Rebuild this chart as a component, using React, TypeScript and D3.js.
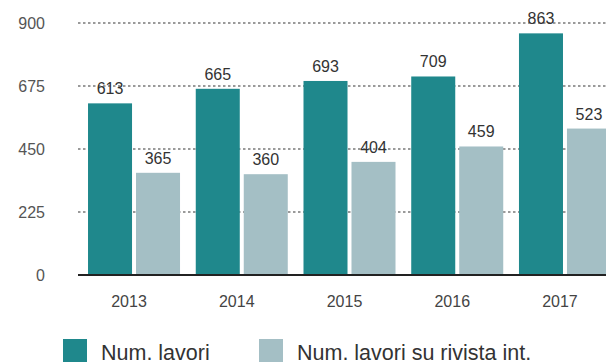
import React from "react";
import * as d3 from "d3";

const years = ["2013", "2014", "2015", "2016", "2017"];
const numLavori = [613, 665, 693, 709, 863];
const numRivista = [365, 360, 404, 459, 523];
const yTicks = [0, 225, 450, 675, 900];
const seriesNames = ["Num. lavori", "Num. lavori su rivista int."];
const colors = ["#1f888c", "#a4bfc5"];

const W = 606;
const H = 362;

export default function App() {
  const y = d3.scaleLinear().domain([0, 900]).range([275, 23]);
  const x0 = d3.scaleBand<string>().domain(years).range([78, 621]).paddingInner(0.146).paddingOuter(0.093);
  const x1 = d3.scaleBand<number>().domain([0, 1]).range([0, x0.bandwidth()]).paddingInner(0.083);
  const series = [numLavori, numRivista];
  const font = "'Liberation Sans', Arial, Helvetica, sans-serif";

  return (
    <svg width={W} height={H} style={{ position: "absolute", left: 0, top: 0, background: "#fff" }} fontFamily={font}>
      {yTicks.map((t) => (
        <g key={t}>
          {t > 0 && (
            <line x1={78} x2={W} y1={y(t)} y2={y(t)} stroke="#7a7a7a" strokeWidth={1.6} strokeDasharray="2.5,2.5" />
          )}
          <text x={45} y={y(t) + 6} textAnchor="end" fontSize={16} fill="#555">
            {t}
          </text>
        </g>
      ))}
      {years.map((yr, i) => (
        <g key={yr} transform={`translate(${x0(yr)},0)`}>
          {series.map((s, j) => (
            <g key={j}>
              <rect x={x1(j)} y={y(s[i])} width={x1.bandwidth()} height={y(0) - y(s[i])} fill={colors[j]} />
              <text
                x={(x1(j) as number) + x1.bandwidth() / 2}
                y={y(s[i]) - 9}
                textAnchor="middle"
                fontSize={16}
                fill="#333"
              >
                {s[i]}
              </text>
            </g>
          ))}
          <text x={x0.bandwidth() / 2 - 5} y={307} textAnchor="middle" fontSize={16} fill="#444">
            {yr}
          </text>
        </g>
      ))}
      <line x1={78} x2={W} y1={y(0)} y2={y(0)} stroke="#222" strokeWidth={2} />
      {seriesNames.map((n, j) => (
        <g key={n} transform={`translate(${j === 0 ? 63 : 259},339)`}>
          <rect x={0} y={0} width={24} height={24} fill={colors[j]} />
          <text x={38} y={21} fontSize={21.5} fill="#333">
            {n}
          </text>
        </g>
      ))}
    </svg>
  );
}
